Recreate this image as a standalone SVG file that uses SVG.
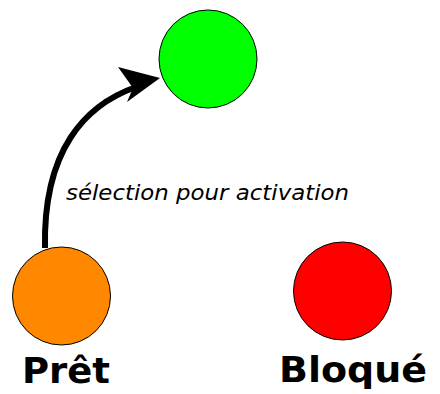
<svg xmlns="http://www.w3.org/2000/svg" width="440" height="394" viewBox="0 0 440 394">
<style>
.node{stroke:#000;stroke-width:1}
.big{font-family:"DejaVu Sans",sans-serif;font-weight:bold;font-size:35px;fill:#000}
.lbl{font-family:"DejaVu Sans",sans-serif;font-style:italic;font-size:21px;fill:#000}
.edge{fill:none;stroke:#000;stroke-width:6}
</style>
<rect width="440" height="394" fill="#fff"/>
<g id="connectors">
<path class="edge" d="M45 248 C43 150 85 105 136 87"/>
<polygon points="160,78 118,67 133,88 127,102" fill="#000"/>
<text class="lbl" x="66" y="200" textLength="283" lengthAdjust="spacingAndGlyphs">sélection pour activation</text>
</g>
<g id="actif">
<circle class="node" cx="208" cy="59" r="49" fill="#00ff00"/>
</g>
<g id="pret">
<circle class="node" cx="61.5" cy="296" r="49" fill="#ff8800"/>
<text class="big" x="22" y="383" textLength="88" lengthAdjust="spacingAndGlyphs">Prêt</text>
</g>
<g id="bloque">
<circle class="node" cx="342.5" cy="291" r="49" fill="#ff0000"/>
<text class="big" x="279" y="382" textLength="148" lengthAdjust="spacingAndGlyphs">Bloqué</text>
</g>
</svg>
